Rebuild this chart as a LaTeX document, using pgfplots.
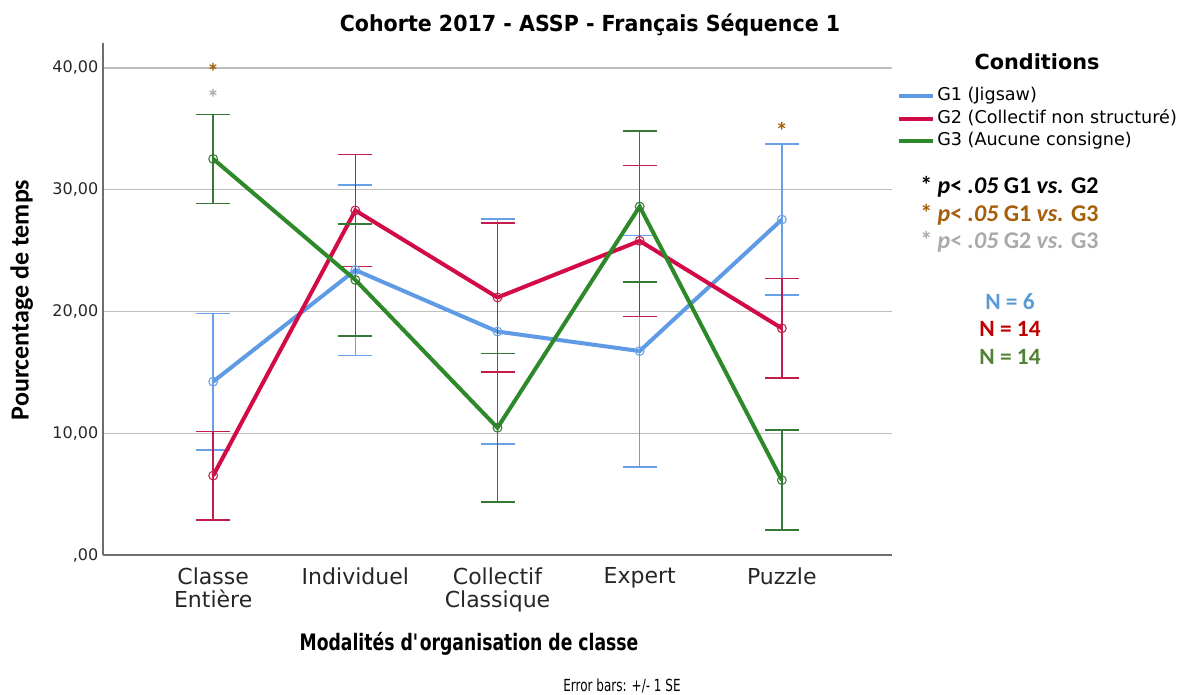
\documentclass[border=0pt]{standalone}
\usepackage{fontspec}
\setmainfont{DejaVu Sans}
\newfontfamily\carl{Carlito}
\newfontfamily\sqA[FakeStretch=0.76]{DejaVu Sans}
\newfontfamily\sqB[FakeStretch=0.93]{DejaVu Sans}
\newfontfamily\sqC[FakeStretch=0.72]{DejaVu Sans}
\usepackage{pgfplots}
\pgfplotsset{compat=1.18}
\definecolor{cblue}{RGB}{95,155,228}
\definecolor{cred}{RGB}{210,10,70}
\definecolor{cgreen}{RGB}{45,137,42}
\definecolor{eblue}{RGB}{105,160,230}
\definecolor{ered}{RGB}{195,30,75}
\definecolor{egreen}{RGB}{55,120,55}
\definecolor{sbrown}{RGB}{165,95,10}
\definecolor{sgray}{RGB}{170,170,170}
\definecolor{nblue}{RGB}{91,155,213}
\definecolor{nred}{RGB}{192,0,0}
\definecolor{ngreen}{RGB}{84,130,53}
\definecolor{gridc}{RGB}{190,190,190}
\definecolor{axc}{RGB}{110,110,110}

\pgfplotstableread{
x y e
0 14.24 5.6
1 23.40 7.0
2 18.35 9.25
3 16.75 9.5
4 27.55 6.2
}\gone
\pgfplotstableread{
x y e
0 6.52 3.63
1 28.30 4.6
2 21.15 6.1
3 25.80 6.2
4 18.62 4.1
}\gtwo
\pgfplotstableread{
x y e
0 32.53 3.65
1 22.59 4.6
2 10.45 6.1
3 28.62 6.2
4 6.15 4.1
}\gthree

\begin{document}
\begin{tikzpicture}
\path[use as bounding box] (-77.25pt,-104.25pt) rectangle (814.5pt,416.25pt);
\begin{axis}[
  at={(0,0)}, anchor=south west,
  scale only axis, width=591.75pt, height=384pt,
  xmin=-0.775, xmax=4.775, ymin=0, ymax=42.05,
  axis x line*=bottom, axis y line*=left,
  x axis line style={axc, line width=1.5pt, -},
  y axis line style={axc, line width=0.8pt, -},
  ytick={0,10,20,30,40},
  yticklabels={{,00},{10,00},{20,00},{30,00},{40,00}},
  xtick={0,1,2,3,4},
  xticklabels={{Classe\\Entière},Individuel,{Collectif\\Classique},Expert,Puzzle},
  xticklabel style={align=center, font=\fontsize{16.5}{17.5}\selectfont, text=black!85, yshift=-6pt},
  yticklabel style={font=\fontsize{12}{14}\selectfont, text=black!85},
  major tick length=0pt,
  ymajorgrids, grid style={gridc, line width=1pt},
  clip=false,
  legend style={at={(1.0063,0.9186)}, anchor=north west, draw=none, fill=none,
    font=\fontsize{13.2}{15}\selectfont, inner sep=0pt,
    nodes={inner xsep=2pt, inner ysep=1.95pt, text height=10pt, text depth=3pt},
    cells={anchor=west}},
  legend image code/.code={\draw[#1, line width=3pt] (0pt,0pt) -- (25pt,0pt);},
]
\addplot[cblue, line width=3pt, mark=o, mark size=3.3pt,
  mark options={line width=0.8pt, eblue},
  error bars/.cd, y dir=both, y explicit,
  error bar style={eblue, line width=1.2pt},
  error mark options={rotate=90, mark size=12.75pt, eblue, line width=1.2pt}]
  table[x=x, y=y, y error=e] {\gone};
\addlegendentry{G1 (Jigsaw)}
\addplot[cred, line width=3pt, mark=o, mark size=3.3pt,
  mark options={line width=0.8pt, ered},
  error bars/.cd, y dir=both, y explicit,
  error bar style={ered, line width=1.2pt},
  error mark options={rotate=90, mark size=12.75pt, ered, line width=1.2pt}]
  table[x=x, y=y, y error=e] {\gtwo};
\addlegendentry{G2 (Collectif non structuré)}
\addplot[cgreen, line width=3pt, mark=o, mark size=3.3pt,
  mark options={line width=0.8pt, egreen},
  error bars/.cd, y dir=both, y explicit,
  error bar style={egreen, line width=1.2pt},
  error mark options={rotate=90, mark size=12.75pt, egreen, line width=1.2pt}]
  table[x=x, y=y, y error=e] {\gthree};
\addlegendentry{G3 (Aucune consigne)}
\addplot[forget plot, only marks, mark=none, nodes near coords={\carl\bfseries *},
  every node near coord/.append style={anchor=center, text=sbrown, font=\fontsize{18}{18}\selectfont}]
  coordinates {(0,39.7) (4,34.8)};
\addplot[forget plot, only marks, mark=none, nodes near coords={\carl\bfseries *},
  every node near coord/.append style={anchor=center, text=sgray, font=\fontsize{18}{18}\selectfont}]
  coordinates {(0,37.5)};
\end{axis}
\node[font=\sqB\bfseries\fontsize{16.6}{18}\selectfont] at (365.25pt,397.5pt) {Cohorte 2017 - ASSP - Français Séquence 1};
\node[font=\bfseries\fontsize{15.6}{17}\selectfont] at (700.5pt,369.75pt) {Conditions};
\node[font=\carl\bfseries\fontsize{18}{20}\selectfont, anchor=west, inner sep=0pt] at (612.75pt,276pt) {* \textit{p}< \textit{.05} G1 \textit{vs.} G2};
\node[font=\carl\bfseries\fontsize{18}{20}\selectfont, anchor=west, inner sep=0pt, text=sbrown] at (612.75pt,255pt) {* \textit{p}< \textit{.05} G1 \textit{vs.} G3};
\node[font=\carl\bfseries\fontsize{18}{20}\selectfont, anchor=west, inner sep=0pt, text=sgray] at (612.75pt,234.75pt) {* \textit{p}< \textit{.05} G2 \textit{vs.} G3};
\node[font=\carl\bfseries\fontsize{17.5}{20}\selectfont, text=nblue] at (680.25pt,189.75pt) {N = 6};
\node[font=\carl\bfseries\fontsize{17.5}{20}\selectfont, text=nred] at (680.25pt,169.5pt) {N = 14};
\node[font=\carl\bfseries\fontsize{17.5}{20}\selectfont, text=ngreen] at (680.25pt,148.5pt) {N = 14};
\node[font=\sqA\bfseries\fontsize{17}{19}\selectfont] at (274.5pt,-66.75pt) {Modalités d\textquotesingle organisation de classe};
\node[font=\sqC\fontsize{12.5}{14}\selectfont] at (389.25pt,-98.25pt) {Error bars: +/- 1 SE};
\node[font=\carl\bfseries\fontsize{19.5}{21}\selectfont, rotate=90] at (-61pt,191.25pt) {Pourcentage de temps};
\end{tikzpicture}
\end{document}
